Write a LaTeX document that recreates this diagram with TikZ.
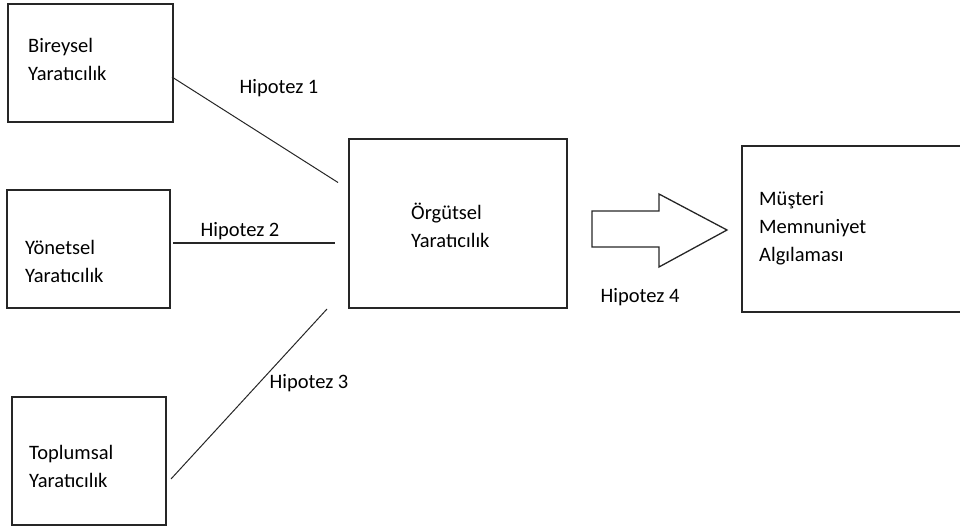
\documentclass[tikz,border=0pt]{standalone}
\usepackage{fontspec}
\setmainfont{Carlito}
\usetikzlibrary{calc}
\begin{document}
\begin{tikzpicture}[x=1pt,y=-1pt,
  box/.style={draw=black!85, line width=1.3pt, inner sep=0pt, outer sep=0pt},
  txt/.style={anchor=west, align=left, inner sep=0pt, font=\fontsize{20.5}{28}\selectfont},
  lbl/.style={inner sep=0pt, font=\fontsize{20.5}{28}\selectfont},
  link/.style={draw=black!85, line width=1pt}]
\useasboundingbox (0,0) rectangle (960,529);

% boxes
\node[box, minimum width=165pt, minimum height=118pt] (B) at (90.5,63) {};
\node[box, minimum width=163pt, minimum height=118pt] (Y) at (88.5,249) {};
\node[box, minimum width=154pt, minimum height=128pt] (T) at (89,461) {};
\node[box, minimum width=218pt, minimum height=169pt] (O) at (458,223.5) {};
\node[box, minimum width=222pt, minimum height=166pt] (M) at (853,229) {};

% box texts
\node[txt] (Bt) at (28,59) {Bireysel\\Yaratıcılık};
\node[txt] (Yt) at (25,261) {Yönetsel\\Yaratıcılık};
\node[txt] (Tt) at (29,466) {Toplumsal\\Yaratıcılık};
\node[txt] (Ot) at (411,225) {Örgütsel\\Yaratıcılık};
\node[txt] (Mt) at (759,228) {Müşteri\\Memnuniyet\\Algılaması};

% hypothesis links
\coordinate (h1a) at ($(B.east)+(-1,14)$);
\coordinate (h1b) at ($(O.west)+(-11,-41)$);
\draw[link] (h1a) -- (h1b);
\coordinate (h2a) at ($(Y.east)+(3,-6)$);
\coordinate (h2b) at ($(O.west)+(-14,19.5)$);
\draw[link] (h2a) -- (h2b);
\coordinate (h3a) at ($(T.east)+(5,18)$);
\coordinate (h3b) at ($(O.west)+(-22,85.5)$);
\draw[link] (h3a) -- (h3b);

% block arrow
\draw[box] (592,211) -- (659,211) -- (659,194) -- (727,230) -- (659,267)
  -- (659,247) -- (592,247) -- cycle;

% labels
\node[lbl] (H1) at (279,88) {Hipotez 1};
\node[lbl] (H2) at (240,231) {Hipotez 2};
\node[lbl] (H3) at (309,383) {Hipotez 3};
\node[lbl] (H4) at (640,297) {Hipotez 4};
\end{tikzpicture}
\end{document}
